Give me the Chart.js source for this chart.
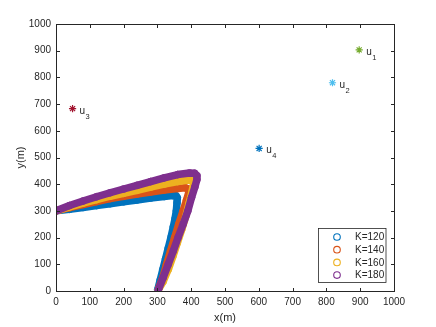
<!DOCTYPE html>
<html lang="en">
<head>
    <meta charset="UTF-8">
    <title>Trajectories</title>
    <script src="https://cdn.jsdelivr.net/npm/chart.js"></script>
    <style>
        html, body { margin: 0; padding: 0; background: #fff; }
        #wrap { width: 436px; height: 327px; }
    </style>
</head>
<body>
    <div id="wrap"><canvas id="traj"></canvas></div>

    <script>
        // trajectory points (x, y in m)
        const pathK120 = [[0,300],[40,306],[80,313],[120,320],[160,327],[200,334],[240,341],[280,348],[320,354],[345,358],[355,357],[359,349],[358,330],[356,300],[352,270],[347,240],[340,200],[332,160],[324,120],[316,80],[308,40],[301,5]];
        const pathK140 = [[0,300],[40,312],[80,324],[120,335],[160,346],[200,355],[240,363],[280,371],[320,378],[360,384],[382,387],[392,382],[393,370],[386,340],[376,300],[363,250],[351,200],[339,150],[327,100],[316,50],[304,10]];
        const pathK160 = [[0,300],[40,315],[80,329],[120,342],[160,355],[200,366],[240,377],[280,389],[320,400],[360,410],[395,416],[405,414],[407,402],[402,370],[394,330],[384,280],[372,230],[359,180],[346,130],[332,80],[317,35],[303,5]];
        const pathK180 = [[0,300],[40,320],[80,337],[120,353],[160,368],[200,382],[240,396],[280,410],[320,424],[360,436],[395,442],[410,441],[417,432],[417,418],[411,390],[401,350],[390,300],[376,250],[361,200],[347,150],[332,100],[317,50],[303,5]];

        const seriesLabels = ['K=120', 'K=140', 'K=160', 'K=180'];
        const seriesColors = ['#0072BD', '#D95319', '#EDB120', '#7E2F8E'];

        // user positions
        const userNames = ['1', '2', '3', '4'];
        const userX = [897, 818, 49, 601];
        const userY = [903, 780, 683, 534];
        const userColors = ['#77AC30', '#4DBEEE', '#A2142F', '#0072BD'];

        const tickVals = [0,100,200,300,400,500,600,700,800,900,1000];
        const textColor = '#262626';
        const fontFam = '"Liberation Sans", Arial, Helvetica, sans-serif';

        function toPts(p) { return p.map(d => ({x: d[0], y: d[1]})); }

        const paths = [pathK120, pathK140, pathK160, pathK180];
        let datasets = paths.map((p, i) => ({
            label: seriesLabels[i],
            data: toPts(p),
            showLine: true,
            borderColor: seriesColors[i],
            backgroundColor: 'rgba(0,0,0,0)',
            borderWidth: 7.5,
            borderJoinStyle: 'round',
            borderCapStyle: 'round',
            pointRadius: 3.4,
            pointBorderWidth: 1,
            pointBorderColor: seriesColors[i],
            pointBackgroundColor: 'rgba(0,0,0,0)',
            order: 4 - i
        }));

        userX.forEach((ux, i) => {
            datasets.push({
                label: 'u' + userNames[i],
                data: [{x: ux, y: userY[i]}],
                pointStyle: 'star',
                pointRadius: 3.6,
                pointBorderWidth: 1.2,
                borderColor: userColors[i],
                backgroundColor: userColors[i],
                order: 0
            });
        });

        // inward ticks, box, axis titles, user labels, legend
        const matlabLook = {
            id: 'matlabLook',
            afterDraw(chart) {
                const ctx = chart.ctx;
                const a = chart.chartArea;
                const xs = chart.scales.x, ys = chart.scales.y;
                const L = Math.round(a.left) + 0.5, R = Math.round(a.right) + 0.5;
                const T = Math.round(a.top) + 0.5, B = Math.round(a.bottom) + 0.5;
                ctx.save();
                ctx.strokeStyle = textColor;
                ctx.lineWidth = 1;
                ctx.strokeRect(L, T, R - L, B - T);
                ctx.beginPath();
                tickVals.forEach(v => {
                    let px = Math.round(xs.getPixelForValue(v)) + 0.5;
                    ctx.moveTo(px, B); ctx.lineTo(px, B - 3.5);
                    ctx.moveTo(px, T); ctx.lineTo(px, T + 3.5);
                    let py = Math.round(ys.getPixelForValue(v)) + 0.5;
                    ctx.moveTo(L, py); ctx.lineTo(L + 3.5, py);
                    ctx.moveTo(R, py); ctx.lineTo(R - 3.5, py);
                });
                ctx.stroke();

                // axis titles
                ctx.fillStyle = textColor;
                ctx.font = '11px ' + fontFam;
                ctx.textAlign = 'center';
                ctx.textBaseline = 'middle';
                ctx.fillText('x(m)', (a.left + a.right) / 2, 318);
                ctx.save();
                ctx.translate(20.5, (a.top + a.bottom) / 2);
                ctx.rotate(-Math.PI / 2);
                ctx.fillText('y(m)', 0, 0);
                ctx.restore();

                // user labels u with subscript
                ctx.textAlign = 'left';
                ctx.textBaseline = 'alphabetic';
                userX.forEach((ux, i) => {
                    let px = xs.getPixelForValue(ux), py = ys.getPixelForValue(userY[i]);
                    ctx.font = '10px ' + fontFam;
                    ctx.fillText('u', px + 7, py + 5);
                    ctx.font = '7.5px ' + fontFam;
                    ctx.fillText(userNames[i], px + 13, py + 10);
                });

                // legend box
                const bx = 318.5, by = 228.5, bw = 67.5, bh = 54;
                ctx.fillStyle = '#fff';
                ctx.fillRect(bx, by, bw, bh);
                ctx.strokeStyle = textColor;
                ctx.lineWidth = 0.8;
                ctx.strokeRect(bx, by, bw, bh);
                ctx.font = '10px ' + fontFam;
                ctx.textBaseline = 'middle';
                seriesLabels.forEach((lab, i) => {
                    let ry = 237 + i * 12.7;
                    ctx.beginPath();
                    ctx.arc(337, ry, 3.3, 0, Math.PI * 2);
                    ctx.strokeStyle = seriesColors[i];
                    ctx.lineWidth = 1.1;
                    ctx.stroke();
                    ctx.fillStyle = textColor;
                    ctx.fillText(lab, 355, ry + 0.5);
                });
                ctx.restore();
            }
        };

        const tickFont = { family: fontFam, size: 10 };
        const plainTick = v => String(v);

        new Chart(document.getElementById('traj').getContext('2d'), {
            type: 'scatter',
            data: { datasets: datasets },
            options: {
                responsive: true,
                maintainAspectRatio: false,
                animation: false,
                layout: { padding: { left: 0, right: 42, top: 24, bottom: 0 } },
                plugins: {
                    legend: { display: false },
                    tooltip: { enabled: false }
                },
                scales: {
                    x: {
                        type: 'linear',
                        min: 0, max: 1000,
                        afterBuildTicks: s => { s.ticks = tickVals.map(v => ({value: v})); },
                        afterFit: s => { s.height = 36; },
                        grid: { display: false, drawTicks: false },
                        border: { display: false },
                        ticks: { padding: 5, color: textColor, font: tickFont, maxRotation: 0, callback: plainTick }
                    },
                    y: {
                        type: 'linear',
                        min: 0, max: 1000,
                        afterBuildTicks: s => { s.ticks = tickVals.map(v => ({value: v})); },
                        afterFit: s => { s.width = 56; },
                        grid: { display: false, drawTicks: false },
                        border: { display: false },
                        ticks: { padding: 5, color: textColor, font: tickFont, callback: plainTick }
                    }
                }
            },
            plugins: [matlabLook]
        });
    </script>
</body>
</html>
